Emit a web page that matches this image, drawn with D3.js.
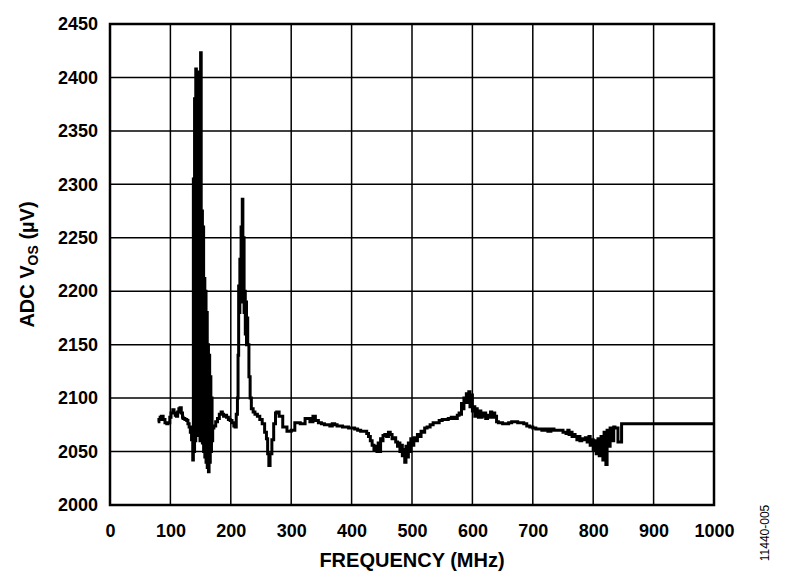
<!DOCTYPE html>
<html>
<head>
<meta charset="utf-8">
<script src="https://cdn.jsdelivr.net/npm/d3@7"></script>
<style>
body { margin:0; background:#fff; }
svg text { font-family: "Liberation Sans", Arial, sans-serif; }
</style>
</head>
<body>
<div id="chart"></div>
<script>
////////////////////////////////////////////////////
// data read off the picture : frequency (MHz) / ADC Vos (uV)
////////////////////////////////////////////////////
var freq = [79,81,83,85,88,91,94,96,99,101,104,106,108,110,112,114,116,118,120,121,124,127,129,131,133,135,137,
	138,139,140,141,142,143,144,145,146,147,148,149,150,151,152,153,154,155,156,157,158,159,160,161,162,163,164,165,166,167,168,169,
	170,172,175,178,181,184,186,188,190,193,196,199,202,205,207,209,211,
	212,213,214,215,216,217,218,219,220,221,222,223,224,225,226,227,228,230,232,234,237,
	240,244,248,252,256,259,261,263,265,268,271,274,276,280,286,293,300,306,315,323,331,336,340,345,
	350,355,360,364,368,372,376,380,385,390,395,400,405,410,415,420,425,428,431,434,437,440,442,444,446,448,450,452,455,458,461,464,467,470,473,476,478,480,482,484,486,488,490,492,494,496,498,500,503,506,509,512,515,518,521,525,530,535,540,545,550,555,560,565,570,575,578,580,582,584,586,588,590,592,594,596,598,600,602,604,606,608,610,612,614,616,618,620,622,625,628,630,632,635,637,640,643,646,650,655,660,665,670,675,680,685,690,695,700,705,710,715,720,725,730,735,740,745,750,755,758,760,763,765,768,770,773,775,778,781,784,787,790,793,795,798,800,803,805,808,810,813,816,818,821,823,826,828,831,834,836,841,841,847,847,1000];
var vos = [2078,2080,2082,2083,2080,2077,2076,2077,2082,2086,2089,2086,2084,2083,2087,2090,2091,2086,2082,2081,2080,2079,2076,2073,2068,2061,2042,
	2305,2050,2380,2060,2408,2070,2300,2065,2390,2075,2405,2060,2423,2065,2275,2058,2260,2050,2212,2045,2200,2040,2180,2035,2150,2031,2140,2040,2120,2050,2100,2060,
	2072,2074,2078,2081,2085,2087,2085,2083,2084,2082,2080,2079,2077,2074,2073,2085,2100,
	2140,2205,2180,2230,2190,2260,2210,2286,2200,2250,2180,2200,2160,2190,2150,2175,2150,2120,2100,2090,2087,
	2085,2083,2080,2076,2068,2062,2048,2037,2048,2061,2076,2086,2087,2083,2073,2069,2070,2077,2076,2081,2078,2083,2079,2077,
	2076,2075,2075,2074,2076,2075,2074,2074,2073,2073,2072,2072,2071,2070,2069,2069,2067,2064,2060,2056,2052,2055,2050,2058,2050,2062,2060,2065,2066,2064,2068,2066,2062,2063,2059,2055,2058,2050,2056,2046,2052,2040,2055,2045,2058,2050,2062,2056,2063,2060,2066,2064,2069,2068,2072,2073,2075,2077,2077,2079,2080,2080,2081,2082,2081,2084,2086,2085,2095,2090,2100,2096,2104,2096,2106,2092,2103,2088,2092,2083,2090,2084,2082,2088,2082,2086,2083,2086,2081,2084,2082,2087,2082,2086,2083,2078,2077,2077,2076,2076,2077,2078,2078,2077,2077,2076,2074,2073,2072,2071,2071,2070,2071,2069,2071,2070,2070,2070,2068,2067,2070,2066,2068,2064,2066,2064,2061,2064,2060,2062,2061,2063,2059,2064,2056,2061,2052,2060,2048,2062,2046,2064,2042,2068,2038,2070,2055,2072,2060,2073,2072,2072,2059,2059,2076,2076];

var xTicks = [0,100,200,300,400,500,600,700,800,900,1000];
var yTicks = [2000,2050,2100,2150,2200,2250,2300,2350,2400,2450];

////////////////////////////////////////////////////
function buildD3_VosChart(theId) {
	var W=785, H=584;
	var left=110, right=714, top=24, bottom=505;

	var svg = d3.select("#"+theId).append("svg:svg")
		.attr("width", W)
		.attr("height", H);

	var x = d3.scaleLinear().domain([0,1000]).range([left,right]);
	var y = d3.scaleLinear().domain([2000,2450]).range([bottom,top]);

	// grid
	var grid = svg.append("svg:g");
	grid.selectAll("vline")
		.data(xTicks)
		.enter().append("svg:line")
			.attr("x1", function(d){return x(d);})
			.attr("x2", function(d){return x(d);})
			.attr("y1", top)
			.attr("y2", bottom)
			.attr("stroke", "#000")
			.attr("stroke-width", 1.5);
	grid.selectAll("hline")
		.data(yTicks)
		.enter().append("svg:line")
			.attr("x1", left)
			.attr("x2", right)
			.attr("y1", function(d){return y(d);})
			.attr("y2", function(d){return y(d);})
			.attr("stroke", "#000")
			.attr("stroke-width", 1.5);

	// axes (labels only)
	var xAxis = svg.append("svg:g")
		.attr("transform", "translate(0,"+bottom+")")
		.call(d3.axisBottom(x).tickValues(xTicks).tickSize(0).tickFormat(d3.format("d")));
	var yAxis = svg.append("svg:g")
		.attr("transform", "translate("+(left-9)+",0)")
		.call(d3.axisLeft(y).tickValues(yTicks).tickSize(0).tickFormat(d3.format("d")));
	[xAxis,yAxis].forEach(function(a){
		a.select(".domain").remove();
		a.selectAll("text")
			.attr("font-family", "Liberation Sans, Arial, sans-serif")
			.attr("font-size", 18)
			.attr("font-weight", "bold")
			.attr("fill", "#000");
	});
	xAxis.selectAll("text").attr("y", 32).attr("dy", 0);

	// curve
	var pts = freq.map(function(f,i){return [f, vos[i]];});
	var line = d3.line()
		.x(function(d){return x(d[0]);})
		.y(function(d){return y(d[1]);})
		.curve(d3.curveStepAfter);
	svg.append("svg:path")
		.datum(pts)
		.attr("d", line)
		.attr("fill", "none")
		.attr("stroke", "#000")
		.attr("stroke-width", 3)
		.attr("stroke-linejoin", "miter");

	// frame
	svg.append("svg:rect")
		.attr("x", left)
		.attr("y", top)
		.attr("width", right-left)
		.attr("height", bottom-top)
		.attr("fill", "none")
		.attr("stroke", "#000")
		.attr("stroke-width", 2.5);

	// titles
	svg.append("svg:text")
		.attr("x", (left+right)/2)
		.attr("y", 567)
		.attr("text-anchor", "middle")
		.attr("font-size", 20)
		.attr("font-weight", "bold")
		.text("FREQUENCY (MHz)");

	var yt = svg.append("svg:text")
		.attr("transform", "translate(34,"+((top+bottom)/2)+") rotate(-90)")
		.attr("text-anchor", "middle")
		.attr("font-size", 20)
		.attr("font-weight", "bold");
	yt.append("svg:tspan").text("ADC V");
	yt.append("svg:tspan").attr("font-size", 14).attr("dy", 4).text("OS");
	yt.append("svg:tspan").attr("dy", -4).text(" (\u00b5V)");

	svg.append("svg:text")
		.attr("transform", "translate(769,533) rotate(-90)")
		.attr("text-anchor", "middle")
		.attr("font-size", 12)
		.text("11440-005");
};
////////////////////////////////////////////////////
buildD3_VosChart("chart");
</script>
</body>
</html>
